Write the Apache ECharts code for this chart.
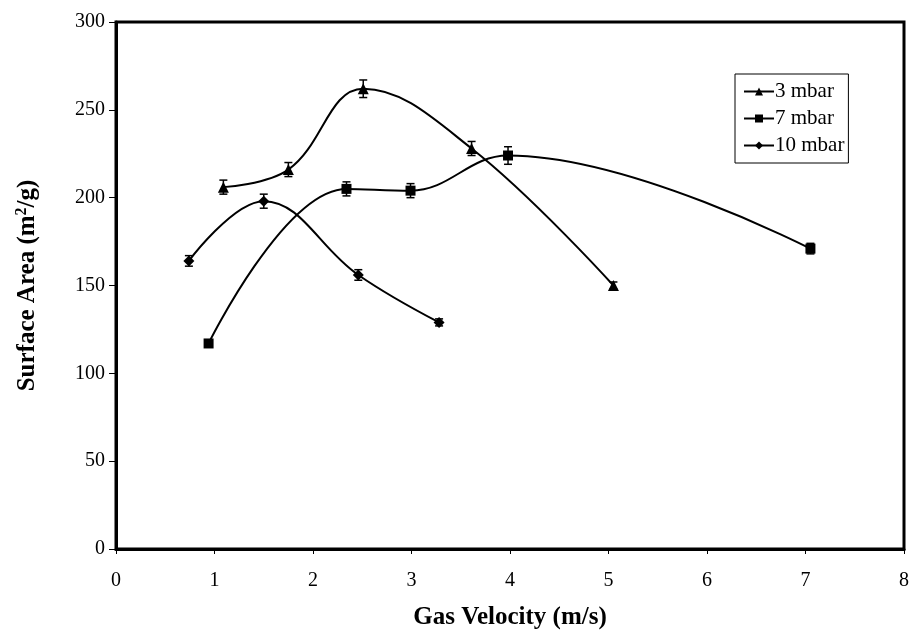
<!DOCTYPE html>
<html>
<head>
<meta charset="utf-8">
<script src="https://cdn.jsdelivr.net/npm/echarts@6/dist/echarts.min.js"></script>
<style>
  html, body { margin: 0; padding: 0; background: #fff; }
  #chart { width: 913px; height: 636px; }
</style>
</head>
<body>
<div id="chart"></div>
<script>
// data
const names = ['3 mbar', '7 mbar', '10 mbar']
const velocity3 = [1.09, 1.75, 2.51, 3.61, 5.05]
const area3 = [206, 216, 262, 228, 150]
const err3 = [4, 4, 5, 4, 2]
const velocity7 = [0.94, 2.34, 2.99, 3.98, 7.05]
const area7 = [117, 205, 204, 224, 171]
const err7 = [2, 4, 4, 5, 3]
const velocity10 = [0.74, 1.50, 2.46, 3.28]
const area10 = [164, 198, 156, 129]
const err10 = [3, 4, 3, 2]

const font = '"Liberation Serif", "Times New Roman", serif'

function pts(xs, ys) {
  return xs.map((x, i) => [x, ys[i]])
}
function errPts(xs, ys, es) {
  return xs.map((x, i) => [x, ys[i], es[i]])
}

// vertical error bar with caps
function renderErr(params, api) {
  const x = api.value(0), y = api.value(1), e = api.value(2)
  const hi = api.coord([x, y + e])
  const lo = api.coord([x, y - e])
  const w = 4
  const st = { stroke: '#000', lineWidth: 1.5 }
  return {
    type: 'group',
    children: [
      { type: 'line', shape: { x1: hi[0], y1: hi[1], x2: lo[0], y2: lo[1] }, style: st },
      { type: 'line', shape: { x1: hi[0] - w, y1: hi[1], x2: hi[0] + w, y2: hi[1] }, style: st },
      { type: 'line', shape: { x1: lo[0] - w, y1: lo[1], x2: lo[0] + w, y2: lo[1] }, style: st }
    ]
  }
}

function lineSeries(name, data, symbol, size) {
  return {
    name: name,
    type: 'line',
    data: data,
    smooth: 0.4,
    symbol: symbol,
    symbolSize: size,
    lineStyle: { color: '#000', width: 2 },
    itemStyle: { color: '#000' },
    z: 3
  }
}
function errSeries(data) {
  return {
    type: 'custom',
    renderItem: renderErr,
    data: data,
    z: 4,
    silent: true
  }
}

const chart = echarts.init(document.getElementById('chart'))
chart.setOption({
  animation: false,
  backgroundColor: '#fff',
  grid: {
    left: 116, right: 9, top: 22, bottom: 87,
    show: true, borderColor: '#000', borderWidth: 3
  },
  legend: {
    orient: 'vertical',
    left: 735, top: 74,
    padding: [7, 4, 7, 8],
    itemGap: 6,
    itemWidth: 30, itemHeight: 10,
    borderColor: '#000', borderWidth: 1,
    backgroundColor: '#fff',
    textStyle: { fontFamily: font, fontSize: 21, color: '#000', padding: [0, 2, 0, -4] },
    data: names
  },
  xAxis: {
    type: 'value',
    min: 0, max: 8, interval: 1,
    name: 'Gas Velocity (m/s)',
    nameLocation: 'middle',
    nameGap: 56,
    nameTextStyle: { fontFamily: font, fontSize: 25, fontWeight: 'bold', color: '#000' },
    axisLine: { lineStyle: { color: '#000', width: 3 } },
    axisTick: { show: true, length: 5, lineStyle: { color: '#000', width: 1 } },
    axisLabel: { fontFamily: font, fontSize: 20, color: '#000', margin: 22 },
    splitLine: { show: false }
  },
  yAxis: {
    type: 'value',
    min: 0, max: 300, interval: 50,
    name: '{a|Surface Area (m}{s|2}{a|/g)}',
    nameLocation: 'middle',
    nameGap: 74,
    nameTextStyle: {
      rich: {
        a: { fontFamily: font, fontSize: 25, fontWeight: 'bold', color: '#000' },
        s: { fontFamily: font, fontSize: 16, fontWeight: 'bold', color: '#000', padding: [0, 0, 12, 0] }
      }
    },
    axisLine: { lineStyle: { color: '#000', width: 3 } },
    axisTick: { show: true, length: 7, lineStyle: { color: '#000', width: 1 } },
    axisLabel: { fontFamily: font, fontSize: 20, color: '#000', margin: 11 },
    splitLine: { show: false }
  },
  series: [
    lineSeries(names[0], pts(velocity3, area3), 'triangle', 11),
    lineSeries(names[1], pts(velocity7, area7), 'rect', 10),
    lineSeries(names[2], pts(velocity10, area10), 'diamond', 11),
    errSeries(errPts(velocity3, area3, err3)),
    errSeries(errPts(velocity7, area7, err7)),
    errSeries(errPts(velocity10, area10, err10))
  ]
})
</script>
</body>
</html>
